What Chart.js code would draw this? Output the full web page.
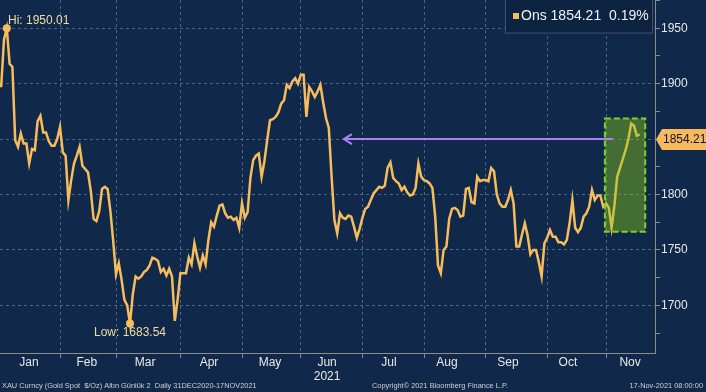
<!DOCTYPE html>
<html>
<head>
<meta charset="utf-8">
<script src="https://cdn.jsdelivr.net/npm/chart.js@4.4.0/dist/chart.umd.min.js"></script>
<style>
  html, body { margin: 0; padding: 0; background: #10294a; }
  #wrap { width: 706px; height: 392px; }
</style>
</head>
<body>
<div id="wrap"><canvas id="chart" width="706" height="392"></canvas></div>
<script>
// Gold spot (XAU), one value per weekday, 31 Dec 2020 .. 17 Nov 2021
const seriesName = 'Ons';
const changePct = '0.19%';
const prices = [
  1898, 1898, 1940, 1950.01, 1918, 1915, 1849, 1843, 1855, 1846,
  1846, 1828, 1841, 1840, 1866, 1871, 1856, 1856, 1848, 1844,
  1844, 1850, 1861, 1838, 1835, 1795, 1813, 1828, 1835, 1843,
  1826, 1823, 1820, 1803, 1778, 1776, 1785, 1805, 1807, 1805,
  1785, 1758, 1728, 1738, 1723, 1705, 1700, 1683.54, 1710, 1726,
  1724, 1726, 1730, 1732, 1736, 1743, 1742, 1740, 1730, 1733,
  1727, 1733, 1726, 1686, 1705, 1729, 1729, 1729, 1743, 1737,
  1756, 1744, 1734, 1745, 1737, 1759, 1775, 1771, 1781, 1790,
  1791, 1783, 1779, 1780, 1777, 1779, 1770, 1792, 1779, 1784,
  1815, 1831, 1835, 1837, 1816, 1830, 1849, 1867, 1868, 1870,
  1874, 1882, 1885, 1899, 1896, 1902, 1905, 1900, 1908, 1908,
  1870, 1897, 1893, 1888, 1893, 1899, 1883, 1869, 1860, 1816,
  1777, 1765, 1783, 1779, 1778, 1781, 1780, 1771, 1761, 1769,
  1779, 1787, 1789, 1795, 1801, 1804, 1807, 1806, 1808, 1824,
  1829, 1815, 1812, 1810, 1804, 1807, 1802, 1799, 1800, 1806,
  1828, 1816, 1813, 1812, 1810, 1806, 1780, 1736, 1729, 1750,
  1753, 1778, 1787, 1788, 1786, 1780, 1781, 1805, 1806, 1793,
  1792, 1816, 1812, 1813, 1813, 1812, 1824, 1821, 1800, 1792,
  1789, 1789, 1795, 1804, 1792, 1753, 1753, 1764, 1774, 1763,
  1746, 1750, 1750, 1739, 1726, 1756, 1761, 1768, 1762, 1762,
  1757, 1757, 1755, 1759, 1774, 1795, 1770, 1766, 1770, 1780,
  1783, 1789, 1804, 1795, 1799, 1799, 1789, 1792, 1788, 1770,
  1790, 1816, 1824, 1832, 1840, 1850, 1864, 1862, 1853, 1854.21
];

const monthNames = ['Jan', 'Feb', 'Mar', 'Apr', 'May', 'Jun', 'Jul', 'Aug', 'Sep', 'Oct', 'Nov'];
const monthStarts = [1, 22, 42, 65, 87, 108, 130, 152, 174, 196, 217]; // weekday index of each month's first day
const monthLabelAt = [10.9, 31.6, 52.4, 75.2, 97, 117.4, 139.5, 160.2, 182, 203.4, 225.6]; // where the month names sit
const yearLabel = '2021';
const yTickValues = [1675, 1700, 1725, 1750, 1775, 1800, 1825, 1850, 1875, 1900, 1925, 1950, 1975];

// annotations
const highlightBox = { from: 216.6, to: 231, low: 1766.4, high: 1868.5 };
const arrowLevel = 1850;
const arrowFrom = 219.5;
const arrowTo = 123.4;

const footLeft = 'XAU Curncy (Gold Spot  $/Oz) Altın Günlük 2  Daily 31DEC2020-17NOV2021';
const footMid = 'Copyright© 2021 Bloomberg Finance L.P.';
const footRight = '17-Nov-2021 08:00:00';

const X_MIN = 0.57, X_MAX = 234.5;
const Y_MIN = 1657, Y_MAX = 1975.5;

const BG = '#10294a';
const LINE = '#f7bc5c';
const GRID = 'rgba(130,150,180,0.55)';
const AXIS = '#8c8c8c';
const FONT = '"Liberation Sans", Arial, sans-serif';

const hiIdx = prices.indexOf(Math.max(...prices));
const loIdx = prices.indexOf(Math.min(...prices));
const lastVal = prices[prices.length - 1];

function noPad(s) {
  s.paddingTop = 0; s.paddingBottom = 0; s.paddingLeft = 0; s.paddingRight = 0;
}

const decor = {
  id: 'decor',
  beforeDraw(chart) {
    const c = chart.ctx;
    c.save();
    c.fillStyle = BG;
    c.fillRect(0, 0, chart.width, chart.height);
    c.restore();
  },
  afterDatasetsDraw(chart) {
    const c = chart.ctx;
    const xs = chart.scales.x, ys = chart.scales.y;

    // green highlight box
    const bx0 = xs.getPixelForValue(highlightBox.from);
    const bx1 = xs.getPixelForValue(highlightBox.to);
    const by0 = ys.getPixelForValue(highlightBox.high);
    const by1 = ys.getPixelForValue(highlightBox.low);
    c.save();
    c.fillStyle = 'rgba(140,205,20,0.42)';
    c.fillRect(bx0, by0, bx1 - bx0, by1 - by0);
    c.strokeStyle = '#7fd12b';
    c.lineWidth = 2;
    c.setLineDash([6, 3]);
    c.strokeRect(bx0, by0, bx1 - bx0, by1 - by0);
    c.restore();

    // purple arrow
    const ay = ys.getPixelForValue(arrowLevel);
    const ax0 = xs.getPixelForValue(arrowFrom);
    const ax1 = xs.getPixelForValue(arrowTo);
    c.save();
    c.strokeStyle = '#ad80f7';
    c.lineWidth = 2;
    c.beginPath();
    c.moveTo(ax0, ay);
    c.lineTo(ax1, ay);
    c.moveTo(ax1 + 8, ay - 5);
    c.lineTo(ax1, ay);
    c.lineTo(ax1 + 8, ay + 5);
    c.stroke();
    c.restore();

    // hi / low labels
    c.save();
    c.font = '12px ' + FONT;
    c.fillStyle = '#f0dca8';
    c.textBaseline = 'middle';
    const hiTxt = 'Hi: ' + prices[hiIdx].toFixed(2);
    const loTxt = 'Low: ' + prices[loIdx].toFixed(2);
    const hx = xs.getPixelForValue(hiIdx), hy = ys.getPixelForValue(prices[hiIdx]);
    const lx = xs.getPixelForValue(loIdx), ly = ys.getPixelForValue(prices[loIdx]);
    const hw = c.measureText(hiTxt).width;
    const lw = c.measureText(loTxt).width;
    c.fillText(hiTxt, Math.max(8, hx - hw / 2), hy - 8);
    c.fillText(loTxt, Math.max(8, lx - lw / 2), ly + 9);
    c.restore();
  },
  afterDraw(chart) {
    const c = chart.ctx;
    const area = chart.chartArea;
    const ys = chart.scales.y;

    // legend box
    c.save();
    c.fillStyle = '#0c2341';
    c.fillRect(505, -1, 148, 34);
    c.strokeStyle = 'rgba(160,170,190,0.35)';
    c.lineWidth = 1;
    c.strokeRect(505.5, -1, 147, 34);
    c.fillStyle = LINE;
    c.fillRect(513, 13, 6, 6);
    c.fillStyle = '#f2f2f2';
    c.font = '14px ' + FONT;
    c.textBaseline = 'middle';
    c.fillText(seriesName + ' ' + lastVal.toFixed(2) + '  ' + changePct, 521, 16.5);
    c.restore();

    // last price tag on the axis
    const ty = ys.getPixelForValue(lastVal) + 5;
    const tx = area.right + 1;
    c.save();
    c.fillStyle = '#f6b95e';
    c.beginPath();
    c.moveTo(tx, ty);
    c.lineTo(tx + 6, ty - 10.5);
    c.lineTo(chart.width, ty - 10.5);
    c.lineTo(chart.width, ty + 10.5);
    c.lineTo(tx + 6, ty + 10.5);
    c.closePath();
    c.fill();
    c.fillStyle = '#141414';
    c.font = '12px ' + FONT;
    c.textBaseline = 'middle';
    c.fillText(lastVal.toFixed(2), tx + 7, ty + 0.5);
    c.restore();

    // footer
    c.save();
    c.font = '7.4px ' + FONT;
    c.fillStyle = '#cfcfcf';
    c.textBaseline = 'middle';
    c.textAlign = 'left';
    c.fillText(footLeft, 2, 386);
    c.textAlign = 'center';
    c.fillText(footMid, 440, 386);
    c.textAlign = 'right';
    c.fillText(footRight, 703, 386);
    c.restore();
  }
};

new Chart(document.getElementById('chart'), {
  type: 'line',
  data: {
    datasets: [{
      label: seriesName,
      data: prices.map((v, i) => ({ x: i, y: v })),
      borderColor: LINE,
      borderWidth: 2.5,
      tension: 0,
      pointRadius: ctx => (ctx.dataIndex === hiIdx || ctx.dataIndex === loIdx) ? 4 : 0,
      pointBackgroundColor: LINE,
      pointBorderWidth: 0,
      pointHoverRadius: 0
    }]
  },
  options: {
    responsive: false,
    animation: false,
    devicePixelRatio: 1,
    layout: { padding: 0 },
    plugins: { legend: { display: false }, tooltip: { enabled: false } },
    scales: {
      x: {
        type: 'linear',
        position: 'bottom',
        weight: 0,
        min: X_MIN,
        max: X_MAX,
        afterBuildTicks: s => { s.ticks = monthStarts.slice(1).map(v => ({ value: v })); },
        grid: { color: GRID, tickColor: AXIS, tickLength: 5, drawTicks: true },
        border: { display: true, color: AXIS, dash: [3, 3] },
        ticks: { display: false },
        afterFit: s => { s.height = 0; noPad(s); }
      },
      xm: {
        type: 'linear',
        position: 'bottom',
        weight: 1,
        min: X_MIN,
        max: X_MAX,
        afterBuildTicks: s => { s.ticks = monthLabelAt.map(v => ({ value: v })); },
        grid: { display: false, drawTicks: false },
        border: { display: false },
        ticks: {
          autoSkip: false,
          maxRotation: 0,
          padding: 2,
          color: '#e8e8e8',
          font: { family: FONT, size: 12 },
          callback: (v, i) => i === 5 ? [monthNames[i], yearLabel] : monthNames[i]
        },
        afterFit: s => { s.height = 39; noPad(s); }
      },
      y: {
        position: 'right',
        min: Y_MIN,
        max: Y_MAX,
        afterBuildTicks: s => { s.ticks = yTickValues.map(v => ({ value: v })); },
        grid: {
          color: ctx => (ctx.tick && ctx.tick.value % 50 === 0) ? GRID : 'transparent',
          tickColor: AXIS,
          tickLength: 5
        },
        border: { color: AXIS, dash: [3, 3] },
        ticks: {
          padding: 1,
          color: '#e8e8e8',
          font: { family: FONT, size: 12 },
          callback: v => v % 50 === 0 ? String(v) : ''
        },
        afterFit: s => { s.width = 51; noPad(s); }
      }
    }
  },
  plugins: [decor]
});
</script>
</body>
</html>
